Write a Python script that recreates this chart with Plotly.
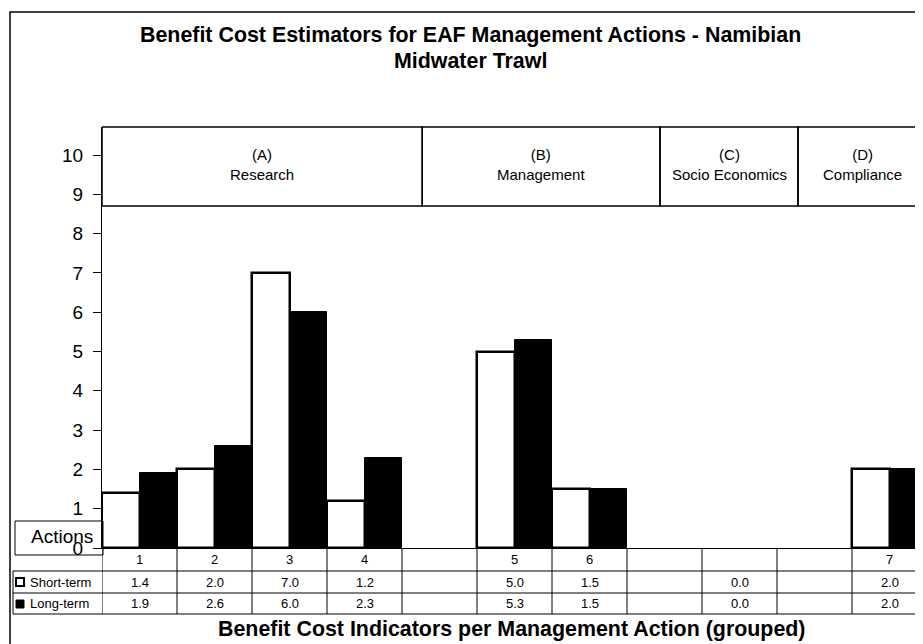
import plotly.graph_objects as go

# %%
# table columns, blank ones are the spacers between the groups
actions = ["1", "2", "3", "4", "", "5", "6", "", "", "", "7"]
short_term = [1.4, 2.0, 7.0, 1.2, None, 5.0, 1.5, None, 0.0, None, 2.0]
long_term = [1.9, 2.6, 6.0, 2.3, None, 5.3, 1.5, None, 0.0, None, 2.0]

groups = ["(A)<br>Research", "(B)<br>Management", "(C)<br>Socio Economics", "(D)<br>Compliance"]
group_edges = [-0.5, 3.77, 6.94, 8.78, 10.5]

y_ticks = list(range(0, 11))

FONT = "Arial, Liberation Sans, sans-serif"

# %%
# the page body has an 8px margin, so the figure is drawn 8px smaller and everything
# below is given in window pixels and shifted back by OFF
OFF = 8
W, H = 923 - OFF, 644 - OFF
L, T, BOT = 102 - OFF, 127 - OFF, 548 - OFF


def px(x):
    return (x - OFF - L) / (W - L)


def py(y):
    return (BOT - (y - OFF)) / (BOT - T)


pos = list(range(len(actions)))

# no outline on the empty (0.0) bars, Excel doesn't draw them either
fig = go.Figure()
fig.add_trace(go.Bar(x=pos, y=short_term, name="Short-term",
                     marker=dict(color="white",
                                 line=dict(color="black", width=[2.5 if v else 0 for v in short_term]))))
fig.add_trace(go.Bar(x=pos, y=long_term, name="Long-term",
                     marker=dict(color="black",
                                 line=dict(color="black", width=[1 if v else 0 for v in long_term]))))

shapes = []
annos = []

# outer frame
shapes.append(dict(type="rect", xref="paper", yref="paper", x0=px(10), x1=px(960),
                   y0=py(700), y1=py(12), line=dict(color="black", width=1.5)))

# group boxes on top
for i, g in enumerate(groups):
    shapes.append(dict(type="rect", xref="x", yref="paper", x0=group_edges[i], x1=group_edges[i + 1],
                       y0=py(206), y1=1, line=dict(color="black", width=1.5)))
    annos.append(dict(x=(group_edges[i] + group_edges[i + 1]) / 2, y=py(164), xref="x", yref="paper",
                      text=g, showarrow=False, font=dict(size=15, color="black"),
                      xanchor="center", yanchor="middle"))

# data table under the axis
for k in range(len(actions) + 1):
    shapes.append(dict(type="line", xref="x", yref="paper", x0=k - 0.5, x1=k - 0.5,
                       y0=py(614), y1=0, line=dict(color="black", width=1)))
for yy in [571, 593, 614]:
    shapes.append(dict(type="line", xref="paper", yref="paper", x0=px(13), x1=1.0,
                       y0=py(yy), y1=py(yy), line=dict(color="black", width=1)))
shapes.append(dict(type="line", xref="paper", yref="paper", x0=px(13), x1=px(13),
                   y0=py(614), y1=py(571), line=dict(color="black", width=1)))

for i, a in enumerate(actions):
    annos.append(dict(x=i, y=py(559.5), xref="x", yref="paper", text=a, showarrow=False,
                      font=dict(size=13, color="black"), xanchor="center", yanchor="middle"))
    for vals, yy in [(short_term, 582), (long_term, 603.5)]:
        if vals[i] is not None:
            annos.append(dict(x=i, y=py(yy), xref="x", yref="paper", text=f"{vals[i]:.1f}",
                              showarrow=False, font=dict(size=13, color="black"),
                              xanchor="center", yanchor="middle"))

# legend keys in the table
shapes.append(dict(type="rect", xref="paper", yref="paper", x0=px(16), x1=px(24),
                   y0=py(586), y1=py(578), fillcolor="white", line=dict(color="black", width=2)))
shapes.append(dict(type="rect", xref="paper", yref="paper", x0=px(16), x1=px(24),
                   y0=py(608), y1=py(600), fillcolor="black", line=dict(color="black", width=1)))
annos.append(dict(x=px(28), y=py(582), xref="paper", yref="paper", text="Short-term", showarrow=False,
                  xanchor="left", yanchor="middle", font=dict(size=13, color="black")))
annos.append(dict(x=px(28), y=py(603.5), xref="paper", yref="paper", text="Long-term", showarrow=False,
                  xanchor="left", yanchor="middle", font=dict(size=13, color="black")))

# "Actions" box
shapes.append(dict(type="rect", xref="paper", yref="paper", x0=px(15), x1=px(103),
                   y0=py(555), y1=py(521), line=dict(color="black", width=1)))
annos.append(dict(x=px(62), y=py(536), xref="paper", yref="paper", text="Actions", showarrow=False,
                  xanchor="center", yanchor="middle", font=dict(size=19, color="black")))

# titles
annos.append(dict(x=px(470), y=py(35), xref="paper", yref="paper", showarrow=False,
                  xanchor="center", yanchor="middle",
                  text="<b>Benefit Cost Estimators for EAF Management Actions - Namibian</b>",
                  font=dict(size=21.4, color="black")))
annos.append(dict(x=px(470), y=py(61), xref="paper", yref="paper", showarrow=False,
                  xanchor="center", yanchor="middle",
                  text="<b>Midwater Trawl</b>", font=dict(size=21.4, color="black")))
annos.append(dict(x=px(512), y=py(629), xref="paper", yref="paper", showarrow=False,
                  xanchor="center", yanchor="middle",
                  text="<b>Benefit Cost Indicators per Management Action (grouped)</b>",
                  font=dict(size=21.4, color="black")))

fig.update_layout(
    width=W, height=H,
    margin=dict(l=L, r=0, t=T, b=H - BOT, pad=0),
    paper_bgcolor="white", plot_bgcolor="white",
    font=dict(family=FONT, color="black"),
    barmode="group", bargap=0, bargroupgap=0,
    showlegend=False,
    shapes=shapes, annotations=annos,
)
fig.update_xaxes(range=[-0.5, -0.5 + (W - L) / 75], showticklabels=False, ticks="", showgrid=False,
                 zeroline=False, showline=True, linecolor="black", linewidth=1)
fig.update_yaxes(range=[0, (BOT - T) / 39.3], tickvals=y_ticks, ticks="outside", ticklen=8,
                 tickcolor="black", showgrid=False, zeroline=False, showline=True, linecolor="black",
                 linewidth=1, ticklabelstandoff=6, tickfont=dict(size=19, color="black"))

fig.write_html("out.html")
